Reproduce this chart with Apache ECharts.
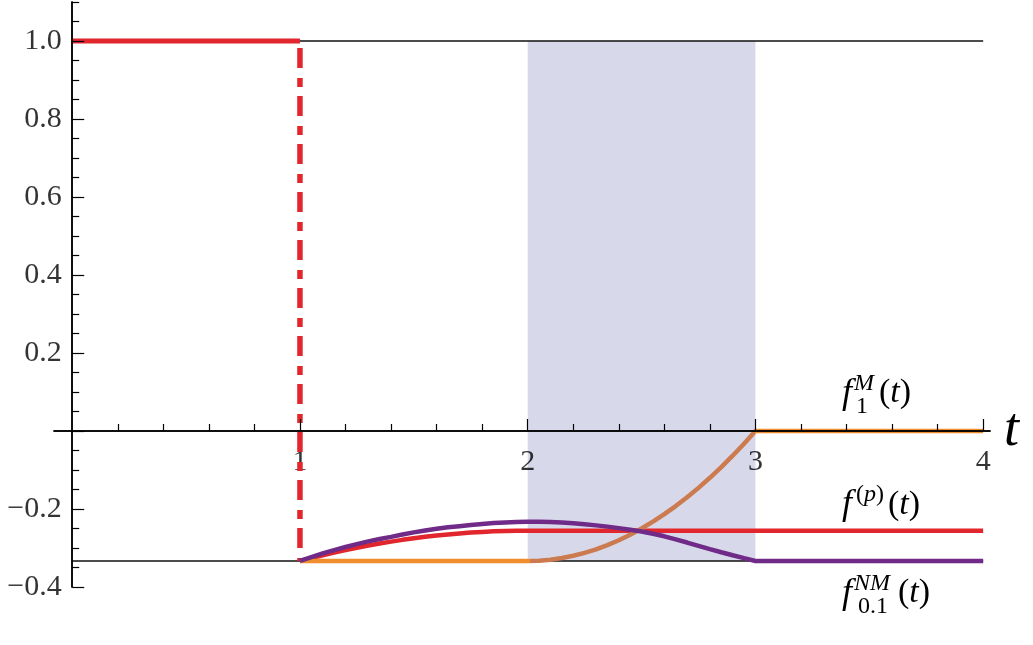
<!DOCTYPE html>
<html>
<head>
<meta charset="utf-8">
<script src="https://cdn.jsdelivr.net/npm/echarts@6/dist/echarts.min.js"></script>
<style>
  html, body { margin: 0; padding: 0; background: #fff; }
  #chart { width: 1033px; height: 645px; }
</style>
</head>
<body>
<div id="chart"></div>
<script>
// ---- data ----
const stepT = [0, 1]
const stepY = [1, 1]
const dropT = [1, 1]
const dropY = [1, -0.3333]
const refT = [0, 4]
const refTopY = [1, 1]
const refBottomY = [-0.3333, -0.3333]
const shadeT = [2, 3]
const shadeY = [-0.3333, 1]

// f^(p)(t)
const redT = [1, 1.05, 1.1, 1.15, 1.2, 1.25, 1.3, 1.35, 1.4, 1.45, 1.5, 1.55, 1.6, 1.65, 1.7, 1.75, 1.8, 1.85, 1.9, 1.95, 2, 4]
const redY = [-0.3333, -0.3258, -0.3185, -0.3118, -0.3053, -0.2993, -0.2937, -0.2884, -0.2836, -0.2791, -0.2750,
  -0.2713, -0.2680, -0.2651, -0.2626, -0.2605, -0.2587, -0.2573, -0.2564, -0.2558, -0.2556, -0.2556]

// f_1^M(t)
const orangeT = [1, 2, 2.05, 2.1, 2.15, 2.2, 2.25, 2.3, 2.35, 2.4, 2.45, 2.5, 2.55, 2.6, 2.65, 2.7, 2.75, 2.8, 2.85, 2.9, 2.95, 3, 4]
const orangeY = [-0.3333, -0.3333, -0.3325, -0.3300, -0.3258, -0.3200, -0.3125, -0.3033, -0.2925, -0.2800, -0.2658,
  -0.2500, -0.2325, -0.2133, -0.1925, -0.1700, -0.1458, -0.1200, -0.0925, -0.0633, -0.0325, 0, 0]

// f_0.1^NM(t)
const purpleT = [1, 1.05, 1.1, 1.15, 1.2, 1.25, 1.3, 1.35, 1.4, 1.45, 1.5, 1.55, 1.6, 1.65, 1.7, 1.75, 1.8, 1.85, 1.9, 1.95,
  2, 2.05, 2.1, 2.15, 2.2, 2.25, 2.3, 2.35, 2.4, 2.45, 2.5, 2.55, 2.6, 2.65, 2.7, 2.75, 2.8, 2.85, 2.9, 2.95, 3, 4]
const purpleY = [-0.3333, -0.3235, -0.3140, -0.3055, -0.2975, -0.2900, -0.2830, -0.2770, -0.2715, -0.2655, -0.2600,
  -0.2550, -0.2505, -0.2470, -0.2440, -0.2410, -0.2385, -0.2362, -0.2345, -0.2333,
  -0.2326, -0.2328, -0.2335, -0.2348, -0.2365, -0.2390, -0.2420, -0.2452, -0.2490, -0.2530, -0.2575,
  -0.2635, -0.2700, -0.2778, -0.2860, -0.2945, -0.3030, -0.3108, -0.3185, -0.3260, -0.3333, -0.3333]

// ticks and tick labels
const xLabelVals = [1, 2, 3, 4]
const xMajorTicks = [1, 2, 3, 4]
const xMinorTicks = [0.2, 0.4, 0.6, 0.8, 1.2, 1.4, 1.6, 1.8, 2.2, 2.4, 2.6, 2.8, 3.2, 3.4, 3.6, 3.8]
const yLabelVals = [-0.4, -0.2, 0.2, 0.4, 0.6, 0.8, 1.0]
const yMajorTicks = [-0.4, -0.2, 0, 0.2, 0.4, 0.6, 0.8, 1.0]
const yMinorTicks = [-0.35, -0.3, -0.25, -0.15, -0.1, -0.05, 0.05, 0.1, 0.15, 0.25, 0.3, 0.35,
  0.45, 0.5, 0.55, 0.65, 0.7, 0.75, 0.85, 0.9, 0.95, 1.05, 1.1]

const SERIF = '"Liberation Serif", "Times New Roman", serif'
const RED = '#e1262d'
const PURPLE = '#702b88'
const ORANGE = '#f08d2c'
const ORANGE_DARK = '#cc7a4f'

const zip = (a, b) => a.map((v, i) => [v, b[i]])

// math-style annotation pieces
const piece = (x, y, s, size, italic) => ({
  type: 'text', x: x, y: y, z: 10,
  style: {
    text: s, fill: '#000', align: 'left', verticalAlign: 'middle',
    font: (italic ? 'italic ' : '') + size + 'px ' + SERIF
  }
})
const paren = (x, y, s, size) => ({
  type: 'text', x: x, y: y, z: 10,
  style: {
    text: '{n|(}{i|' + s + '}{n|)}', fill: '#000', align: 'left', verticalAlign: 'middle',
    rich: {
      n: { fontFamily: SERIF, fontSize: size, fill: '#000' },
      i: { fontFamily: SERIF, fontSize: size, fontStyle: 'italic', fill: '#000' },
    }
  }
})

const chart = echarts.init(document.getElementById('chart'))

const xBase = {
  type: 'value', min: -0.08, max: 4.03, position: 'bottom', z: 5,
  splitLine: { show: false },
  axisLabel: { show: false },
  axisLine: { onZero: true, onZeroAxisIndex: 0, lineStyle: { color: '#000', width: 1.5 } },
}
const yBase = {
  type: 'value', min: -0.4, max: 1.1, position: 'left', z: 5,
  splitLine: { show: false },
  axisLabel: { show: false },
  axisLine: { onZero: true, onZeroAxisIndex: 0, lineStyle: { color: '#000', width: 1.5 } },
}
const tickStyle = { color: '#000', width: 1.2 }

chart.setOption({
  animation: false,
  backgroundColor: '#fff',
  grid: { left: 54, right: 43, top: 2, bottom: 58, containLabel: false, outerBoundsMode: 'none' },
  xAxis: [
    Object.assign({}, xBase, {
      name: 't', nameLocation: 'end', nameGap: 14,
      nameTextStyle: { fontFamily: SERIF, fontStyle: 'italic', fontSize: 54, color: '#000' },
      axisTick: { inside: true, length: 12, customValues: xMajorTicks, lineStyle: tickStyle },
    }),
    Object.assign({}, xBase, {
      axisTick: { inside: true, length: 7, customValues: xMinorTicks, lineStyle: tickStyle },
    }),
  ],
  yAxis: [
    Object.assign({}, yBase, {
      axisTick: { inside: true, length: 12, customValues: yMajorTicks, lineStyle: tickStyle },
    }),
    Object.assign({}, yBase, {
      axisTick: { inside: true, length: 7, customValues: yMinorTicks, lineStyle: tickStyle },
    }),
  ],
  visualMap: {
    type: 'piecewise', show: false, seriesIndex: 6, dimension: 0,
    pieces: [{ gt: 2.01, lte: 3, color: ORANGE_DARK }],
    outOfRange: { color: ORANGE },
  },
  series: [
    {
      // shaded window
      type: 'line', z: 1, data: [], silent: true,
      markArea: {
        silent: true, itemStyle: { color: '#d7d9eb' },
        data: [[{ xAxis: shadeT[0], yAxis: shadeY[1] }, { xAxis: shadeT[1], yAxis: shadeY[0] }]],
      },
    },
    {
      type: 'line', z: 2, symbol: 'none', data: zip(refT, refTopY),
      lineStyle: { color: '#111', width: 1.6 },
    },
    {
      type: 'line', z: 2, symbol: 'none', data: zip(refT, refBottomY),
      lineStyle: { color: '#111', width: 1.6 },
    },
    {
      type: 'line', z: 3, symbol: 'none', data: zip(stepT, stepY),
      lineStyle: { color: RED, width: 5, cap: 'butt' },
    },
    {
      type: 'line', z: 3, symbol: 'none', data: zip(dropT, dropY),
      lineStyle: { color: RED, width: 5.5, cap: 'butt', type: [20, 10, 9, 9], dashOffset: 41 },
    },
    {
      type: 'line', z: 3, symbol: 'none', data: zip(redT, redY),
      lineStyle: { color: RED, width: 4.5 },
    },
    {
      type: 'line', z: 3, symbol: 'none', data: zip(orangeT, orangeY),
      lineStyle: { width: 4.5 },
    },
    {
      type: 'line', z: 3, symbol: 'none', data: zip(purpleT, purpleY),
      lineStyle: { color: PURPLE, width: 4.5 },
    },
    {
      // x tick labels, placed on the axis line at y = 0
      type: 'scatter', silent: true, symbolSize: 1, z: 2,
      itemStyle: { color: 'rgba(0,0,0,0)' },
      data: xLabelVals.map((v) => [v, 0]),
      label: {
        show: true, position: 'bottom', distance: 16,
        fontFamily: SERIF, fontSize: 30, color: '#000',
        formatter: (p) => String(p.value[0]),
      },
    },
    {
      // y tick labels, placed on the axis line at t = 0
      type: 'scatter', silent: true, symbolSize: 1, z: 2,
      itemStyle: { color: 'rgba(0,0,0,0)' },
      data: yLabelVals.map((v) => [0, v]),
      label: {
        show: true, position: 'left', distance: 10,
        fontFamily: SERIF, fontSize: 30, color: '#000',
        formatter: (p) => (p.value[1] < 0 ? '\u2212' : '') + Math.abs(p.value[1]).toFixed(1),
      },
    },
  ],
  graphic: [
    // f_1^M(t)
    piece(842, 394, 'f', 36, true),
    piece(854, 384, 'M', 24, true),
    piece(856, 407, '1', 24, false),
    paren(879, 393, 't', 34),
    // f^(p)(t)
    piece(842, 505, 'f', 36, true),
    paren(856, 495, 'p', 24),
    paren(888, 505, 't', 34),
    // f_0.1^NM(t)
    piece(842, 594, 'f', 36, true),
    piece(854, 584, 'NM', 24, true),
    piece(858, 607, '0.1', 24, false),
    paren(898, 593, 't', 34),
  ],
})
</script>
</body>
</html>
